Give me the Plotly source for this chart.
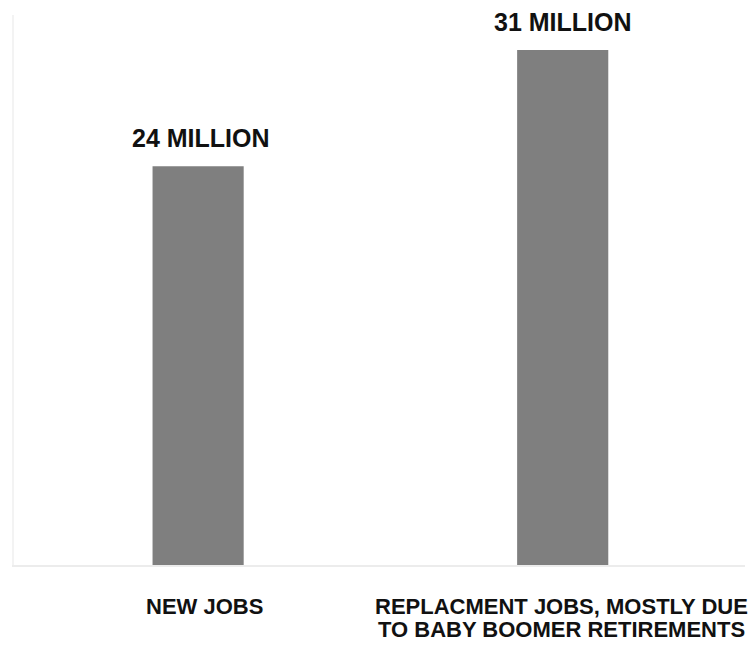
import plotly.graph_objects as go

# Job openings, in millions
categories = ["NEW JOBS", "REPLACMENT JOBS, MOSTLY DUE<br>TO BABY BOOMER RETIREMENTS"]
values = [24, 31]
value_labels = ["24 MILLION", "31 MILLION"]

bar_color = "#7f7f7f"
font_family = "Liberation Sans, Arial, sans-serif"

fig = go.Figure()
fig.add_trace(go.Bar(
    x=[0, 1],
    y=values,
    width=0.25,
    marker=dict(color=bar_color, line=dict(width=0)),
    hoverinfo="skip",
))

# Value labels above the bars
for i, (v, lab) in enumerate(zip(values, value_labels)):
    fig.add_annotation(
        x=i, y=v, text=f"<b>{lab}</b>", showarrow=False,
        xanchor="center", yanchor="bottom", yshift=12, xshift=3 if i == 0 else 0,
        font=dict(family=font_family, size=25, color="#111111"),
    )

# Category labels beneath the baseline, one annotation per line for tight leading
line_step = 23
for i, cat in enumerate(categories):
    for j, line in enumerate(cat.split("<br>")):
        fig.add_annotation(
            x=i, y=0, text=f"<b>{line}</b>", showarrow=False,
            xanchor="center", yanchor="top", yshift=-27 - j * line_step,
            xshift=6 if i == 0 else -1,
            font=dict(family=font_family, size=22, color="#111111"),
        )

fig.update_layout(
    width=753, height=648,
    margin=dict(l=14, r=8, t=15, b=83),
    paper_bgcolor="white", plot_bgcolor="white",
    showlegend=False,
    xaxis=dict(range=[-0.505, 1.5], showticklabels=False, showgrid=False,
               zeroline=False, showline=True, linecolor="#ececec", linewidth=2,
               ticks=""),
    yaxis=dict(range=[0, 33.1], showticklabels=False, showgrid=False,
               zeroline=False, showline=True, linecolor="#f3f3f3", linewidth=2,
               ticks=""),
)

fig.write_html("out.html")
